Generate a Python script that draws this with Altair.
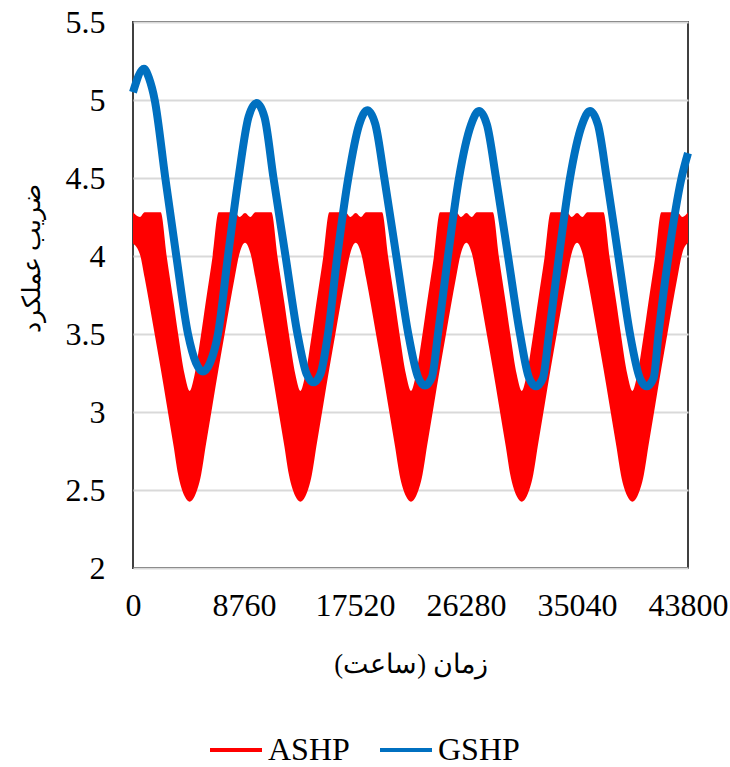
import altair as alt
import pandas as pd

# ASHP: hourly COP swings daily, drawn as a band between the daily low and high envelopes
ashp_hour = [
    0, 550, 919, 1708, 2181, 2655, 3207, 3562, 4075, 4470, 4865, 5378, 5733, 6285, 6759, 7232, 8021, 8416, 8840,
    9264, 9659, 10448, 10921, 11395, 11947, 12302, 12815, 13210, 13605, 14118, 14473, 15025, 15499, 15972, 16761, 17156, 17575,
    17994, 18389, 19178, 19651, 20125, 20677, 21032, 21545, 21940, 22335, 22848, 23203, 23755, 24229, 24702, 25491, 25886, 26310,
    26734, 27129, 27918, 28391, 28865, 29417, 29772, 30285, 30680, 31075, 31588, 31943, 32495, 32969, 33442, 34231, 34626, 35045,
    35464, 35859, 36648, 37121, 37595, 38147, 38502, 39015, 39410, 39805, 40318, 40673, 41225, 41699, 42172, 42961, 43356, 43800,
]
ashp_low = [
    4.08, 4.01, 3.86, 3.50, 3.28, 3.05, 2.78, 2.60, 2.46, 2.425, 2.46, 2.60, 2.78, 3.05, 3.28, 3.50, 3.86, 4.02, 4.085,
    4.02, 3.86, 3.50, 3.28, 3.05, 2.78, 2.60, 2.46, 2.425, 2.46, 2.60, 2.78, 3.05, 3.28, 3.50, 3.86, 4.02, 4.085,
    4.02, 3.86, 3.50, 3.28, 3.05, 2.78, 2.60, 2.46, 2.425, 2.46, 2.60, 2.78, 3.05, 3.28, 3.50, 3.86, 4.02, 4.085,
    4.02, 3.86, 3.50, 3.28, 3.05, 2.78, 2.60, 2.46, 2.425, 2.46, 2.60, 2.78, 3.05, 3.28, 3.50, 3.86, 4.02, 4.085,
    4.02, 3.86, 3.50, 3.28, 3.05, 2.78, 2.60, 2.46, 2.425, 2.46, 2.60, 2.78, 3.05, 3.28, 3.50, 3.86, 4.02, 4.085,
]
ashp_high = [
    4.28, 4.25, 4.28, 4.28, 4.28, 4.00, 3.70, 3.50, 3.24, 3.135, 3.24, 3.50, 3.70, 4.00, 4.28, 4.28, 4.28, 4.25, 4.275,
    4.25, 4.28, 4.28, 4.28, 4.00, 3.70, 3.50, 3.24, 3.135, 3.24, 3.50, 3.70, 4.00, 4.28, 4.28, 4.28, 4.25, 4.275,
    4.25, 4.28, 4.28, 4.28, 4.00, 3.70, 3.50, 3.24, 3.135, 3.24, 3.50, 3.70, 4.00, 4.28, 4.28, 4.28, 4.25, 4.275,
    4.25, 4.28, 4.28, 4.28, 4.00, 3.70, 3.50, 3.24, 3.135, 3.24, 3.50, 3.70, 4.00, 4.28, 4.28, 4.28, 4.25, 4.275,
    4.25, 4.28, 4.28, 4.28, 4.00, 3.70, 3.50, 3.24, 3.135, 3.24, 3.50, 3.70, 4.00, 4.28, 4.28, 4.28, 4.25, 4.28,
]

# GSHP: ground-source COP, a smooth seasonal curve
gshp_hour = [
    0, 868, 1263, 1713, 2549, 3417, 4341, 4972, 5524, 6077, 6708, 7497, 8326, 9115, 9746,
    10378, 11088, 12035, 12982, 13692, 14245, 14797, 15388, 16123, 16991, 17859, 18490,
    19122, 19832, 20779, 21726, 22492, 23044, 23597, 24070, 24859, 25728, 26675, 27306,
    27937, 28648, 29595, 30542, 31252, 31804, 32357, 32830, 33619, 34487, 35434, 36066,
    36697, 37384, 38299, 39222, 39988, 40541, 41093, 41472, 42261, 43287, 43800,
]
gshp_cop = [
    5.05, 5.20, 5.14, 5.00, 4.50, 4.00, 3.50, 3.315, 3.26, 3.315, 3.50, 4.00, 4.50, 4.89, 4.98,
    4.89, 4.50, 4.00, 3.50, 3.245, 3.19, 3.245, 3.50, 4.00, 4.50, 4.845, 4.935,
    4.845, 4.50, 4.00, 3.50, 3.225, 3.17, 3.225, 3.50, 4.00, 4.50, 4.84, 4.93,
    4.84, 4.50, 4.00, 3.50, 3.22, 3.165, 3.22, 3.50, 4.00, 4.50, 4.84, 4.93,
    4.84, 4.50, 4.00, 3.50, 3.22, 3.165, 3.22, 3.50, 4.00, 4.50, 4.66,
]

series_names = ["ASHP", "GSHP"]
series_colors = ["#FF0000", "#0070C0"]
x_ticks = [0, 8760, 17520, 26280, 35040, 43800]
y_ticks = [2, 2.5, 3, 3.5, 4, 4.5, 5, 5.5]

FONT = "Liberation Serif"

ashp = pd.DataFrame({"hour": ashp_hour, "low": ashp_low, "high": ashp_high})
gshp = pd.DataFrame({"hour": gshp_hour, "cop": gshp_cop, "series": "GSHP"})

x_enc = alt.X(
    "hour:Q",
    scale=alt.Scale(domain=[0, 43800], nice=False, zero=False),
    axis=alt.Axis(
        values=x_ticks, format="d", title="زمان (ساعت)",
        grid=False, ticks=False, domain=False,
        labelFlush=False, labelOverlap=False, labelPadding=22,
        titleY=96, titleBaseline="middle", titleFontSize=26.5,
    ),
)
y_scale = alt.Scale(domain=[2, 5.5], nice=False, zero=False)
y_axis = alt.Axis(
    values=y_ticks, format="~g", title="ضریب عملکرد",
    grid=True, ticks=False, domain=False,
    labelFlush=False, labelOverlap=False, labelPadding=28,
    titleX=-102, titleY=236, titleBaseline="middle", titleAlign="center", titleFontSize=25,
)

band = alt.Chart(ashp).mark_area(color=series_colors[0], interpolate="monotone").encode(
    x=x_enc,
    y=alt.Y("high:Q", scale=y_scale, axis=y_axis),
    y2="low:Q",
)

curve = alt.Chart(gshp).mark_line(strokeWidth=8, interpolate="monotone").encode(
    x="hour:Q",
    y="cop:Q",
    color=alt.Color(
        "series:N",
        scale=alt.Scale(domain=series_names, range=series_colors),
        legend=alt.Legend(
            title=None, orient="none", direction="horizontal",
            legendX=75, legendY=700,
            symbolType="stroke", symbolSize=2704, symbolStrokeWidth=4,
            labelFont=FONT, labelFontSize=32, labelColor="#000000",
            labelOffset=4, columnPadding=22, padding=0,
        ),
    ),
)

chart = (
    alt.layer(band, curve)
    .properties(
        width=555, height=546,
        padding={"left": 133, "top": 22, "right": 42, "bottom": 199},
        autosize=alt.AutoSizeParams(type="none"),
        background="white",
    )
    .configure_view(stroke="#404040", strokeWidth=2)
    .configure_axis(
        labelFont=FONT, labelFontSize=32, labelColor="#000000",
        titleFont=FONT, titleFontWeight="normal", titleColor="#000000",
        gridColor="#D9D9D9", gridWidth=2,
    )
)

chart.save("out.html", embed_options={"renderer": "svg", "actions": False})
